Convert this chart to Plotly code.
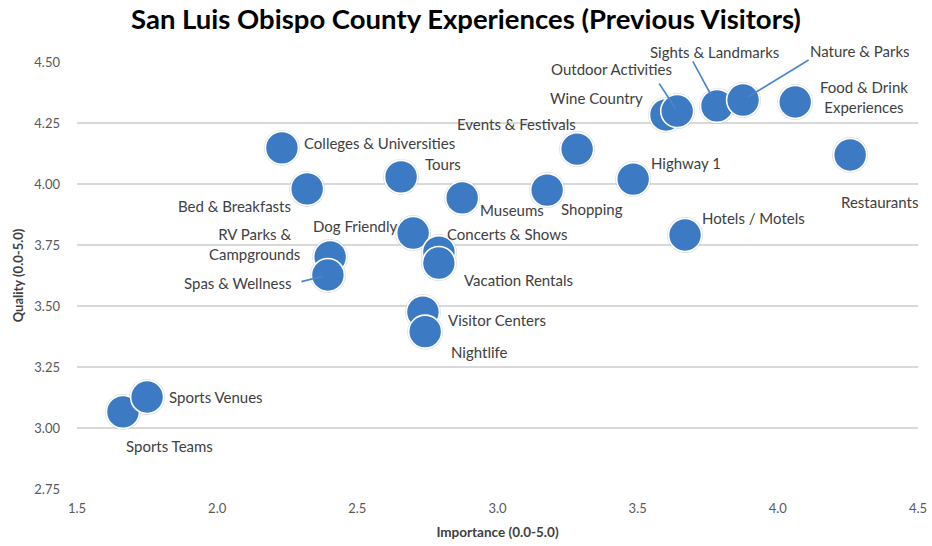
import plotly.graph_objects as go

# ---- data ----
names = ["Sports Teams", "Sports Venues", "Colleges & Universities", "Bed & Breakfasts",
         "RV Parks &<br>Campgrounds", "Spas & Wellness", "Tours", "Dog Friendly",
         "Concerts & Shows", "Vacation Rentals", "Visitor Centers", "Nightlife",
         "Museums", "Shopping", "Events & Festivals", "Highway 1", "Hotels / Motels",
         "Wine Country", "Outdoor Activities", "Sights & Landmarks", "Nature & Parks",
         "Food & Drink<br>Experiences", "Restaurants"]
importance = [1.664, 1.750, 2.231, 2.321, 2.403, 2.395, 2.656, 2.699,
              2.791, 2.791, 2.734, 2.742, 2.874, 3.177, 3.284, 3.484, 3.669,
              3.601, 3.641, 3.783, 3.876, 4.062, 4.258]
quality = [3.066, 3.127, 4.148, 3.980, 3.701, 3.627, 4.029, 3.799,
           3.721, 3.676, 3.475, 3.395, 3.943, 3.975, 4.143, 4.020, 3.791,
           4.283, 4.299, 4.320, 4.344, 4.336, 4.119]
x_ticks = [1.5, 2.0, 2.5, 3.0, 3.5, 4.0, 4.5]
y_ticks = [2.75, 3.00, 3.25, 3.50, 3.75, 4.00, 4.25, 4.50]

# ---- label placement (pixel offsets from point, screen y downwards) ----
label_offsets = [(47, 34), (69, 0), (98, -5), (-73, 17), (-76, -13), (-90, 8), (42, -13),
                 (-58, -7), (68, -18), (80, 17), (74, 8), (54, 20), (50, 12), (45, 19),
                 (-61, -25), (53, -16), (68, -17), (-69, -17), (-66, -42), (-3, -54),
                 (117, -49), (69, -5), (29, 47)]
# leader lines: index -> (tail dx, tail dy, standoff)
leaders = {5: (-28, 7, 5), 18: (-19, -29, 3), 19: (-25, -46, 13), 20: (67, -41, 6)}

FONT = "Lato"
BLUE = "rgb(60,123,196)"
TXT = "#404040"

fig = go.Figure()
fig.add_trace(go.Scatter(x=importance, y=quality, mode="markers", hoverinfo="skip",
                         marker=dict(size=36, color="rgba(110,110,110,0.22)", line=dict(width=0)),
                         showlegend=False))
fig.add_trace(go.Scatter(x=importance, y=quality, mode="markers", text=names,
                         marker=dict(size=33, color=BLUE, line=dict(color="white", width=1.6)),
                         showlegend=False))

for i, (n, xv, yv) in enumerate(zip(names, importance, quality)):
    dx, dy = label_offsets[i]
    fig.add_annotation(x=xv, y=yv, text=n, showarrow=False, xshift=dx, yshift=-dy,
                       font=dict(family=FONT, size=15, color=TXT), align="center")
    if i in leaders:
        ax, ay, so = leaders[i]
        fig.add_annotation(x=xv, y=yv, text="", showarrow=True, ax=ax, ay=ay, arrowhead=0,
                           arrowwidth=1.6, arrowcolor="rgb(70,135,205)", standoff=so)

fig.update_layout(
    width=932, height=546,
    margin=dict(l=77, r=14, t=62, b=57),
    paper_bgcolor="white", plot_bgcolor="white",
    title=dict(text="<b>San Luis Obispo County Experiences (Previous Visitors)</b>",
               x=0.5, xanchor="center", y=0.965, yanchor="middle",
               font=dict(family=FONT, size=27.5, color="black")),
    xaxis=dict(range=[1.5, 4.5], tickvals=x_ticks, ticktext=[f"{v:.1f}" for v in x_ticks],
               showgrid=False, zeroline=False, showline=False, ticks="", automargin=False,
               ticklabelstandoff=10,
               tickfont=dict(family=FONT, size=13, color="#595959"),
               title=dict(text="<b>Importance (0.0-5.0)</b>", standoff=12,
                          font=dict(family=FONT, size=13.5, color=TXT))),
    yaxis=dict(range=[2.75, 4.5], tickvals=y_ticks, ticktext=[f"{v:.2f}" for v in y_ticks],
               showgrid=True, gridcolor="#d9d9d9", gridwidth=1.5, zeroline=False, automargin=False,
               showline=False, ticks="", ticklabelstandoff=16,
               tickfont=dict(family=FONT, size=13, color="#595959"),
               title=dict(text="<b>Quality (0.0-5.0)</b>", standoff=7,
                          font=dict(family=FONT, size=13, color=TXT))),
)

fig.write_html("out.html", config={"displayModeBar": False},
               post_script="document.body.style.margin='0';")
